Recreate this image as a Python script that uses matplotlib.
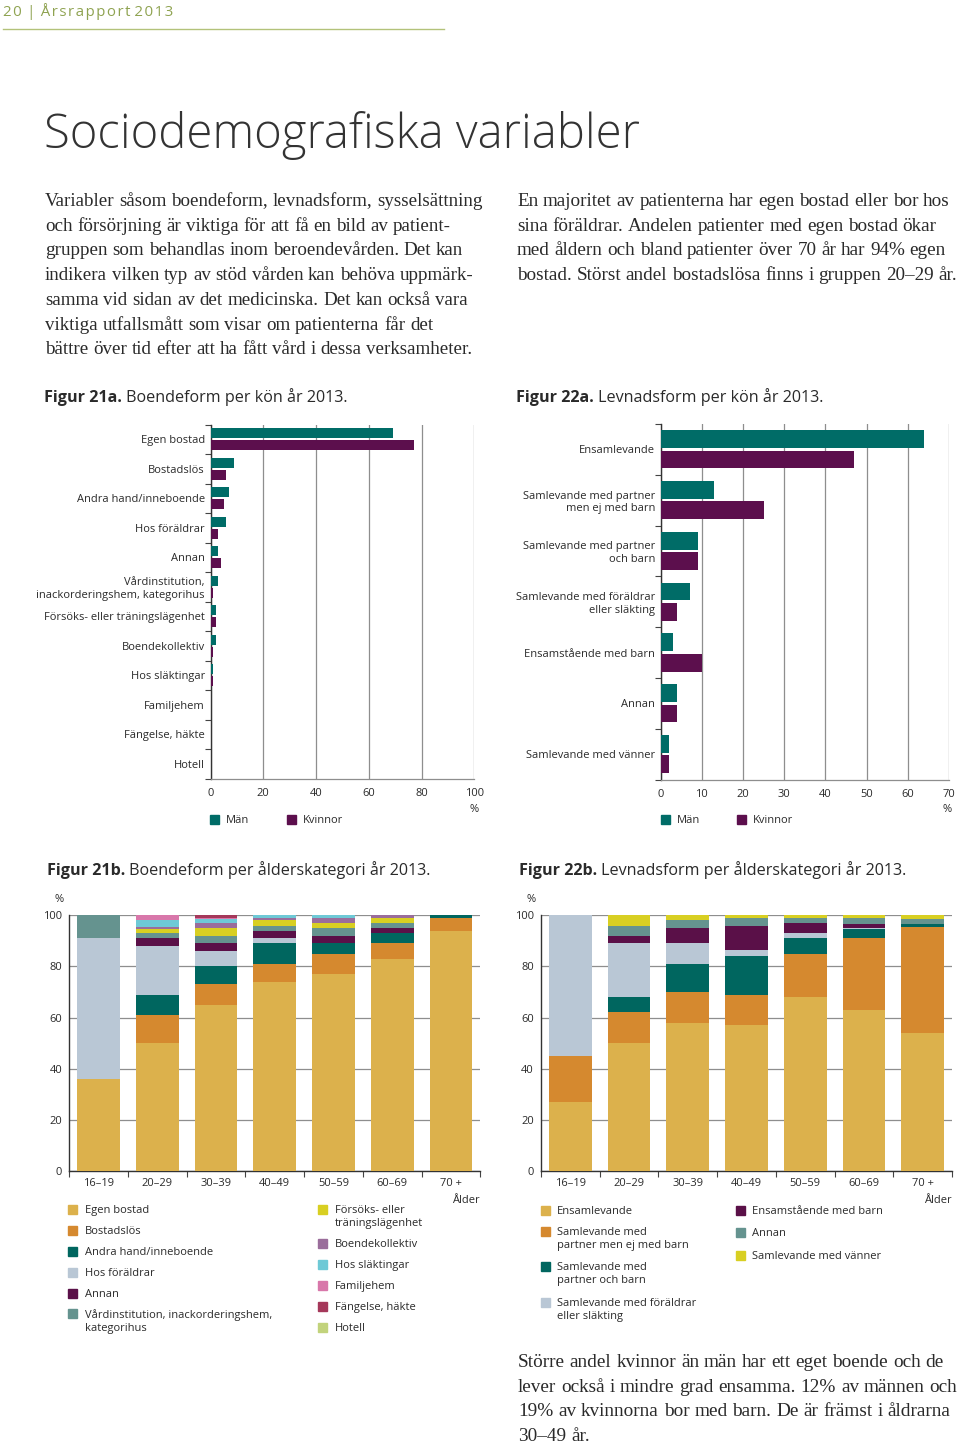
import matplotlib
matplotlib.use('Agg')
import matplotlib.pyplot as plt
from matplotlib.patches import Rectangle
from matplotlib.lines import Line2D
import numpy as np

# ---------------- data ----------------
boende_cats = ['Egen bostad', 'Bostadslös', 'Andra hand/inneboende', 'Hos föräldrar', 'Annan',
               'Vårdinstitution,\ninackorderingshem, kategorihus', 'Försöks- eller träningslägenhet',
               'Boendekollektiv', 'Hos släktingar', 'Familjehem', 'Fängelse, häkte', 'Hotell']
boende_man = [69, 9, 7, 6, 3, 3, 2, 2, 1, 0, 0, 0]
boende_kvinnor = [77, 6, 5, 3, 4, 1, 2, 1, 1, 0, 0, 0]

levnad_cats = ['Ensamlevande', 'Samlevande med partner\nmen ej med barn', 'Samlevande med partner\noch barn',
               'Samlevande med föräldrar\neller släkting', 'Ensamstående med barn', 'Annan',
               'Samlevande med vänner']
levnad_man = [64, 13, 9, 7, 3, 4, 2]
levnad_kvinnor = [47, 25, 9, 4, 10, 4, 2]

age_groups = ['16–19', '20–29', '30–39', '40–49', '50–59', '60–69', '70 +']

# Figure 21b: boendeform per ålder (%)
b_egen = [36, 50, 65, 74, 77, 83, 94]
b_bostadslos = [0, 11, 8, 7, 8, 6, 5]
b_andrahand = [0, 8, 7, 8, 4, 4, 1]
b_foraldrar = [55, 19, 6, 2, 0, 0, 0]
b_annan = [0, 3, 3, 3, 3, 2, 0]
b_vard = [9, 2, 3, 2, 3, 2, 0]
b_forsoks = [0, 1.5, 3, 2, 2, 2, 0]
b_kollektiv = [0, 1, 2, 1, 2, 1, 0]
b_slakt = [0, 2.5, 1.5, 1, 1, 0, 0]
b_familjehem = [0, 2, 0.5, 0, 0, 0, 0]
b_fangelse = [0, 0, 1, 0, 0, 0, 0]
b_hotell = [0, 0, 0, 0, 0, 0, 0]

b_legend = ['Egen bostad', 'Bostadslös', 'Andra hand/inneboende', 'Hos föräldrar', 'Annan',
            'Vårdinstitution, inackorderingshem,\nkategorihus', 'Försöks- eller\nträningslägenhet',
            'Boendekollektiv', 'Hos släktingar', 'Familjehem', 'Fängelse, häkte', 'Hotell']

# Figure 22b: levnadsform per ålder (%)
l_ensam = [27, 50, 58, 57, 68, 63, 54]
l_partner = [18, 12, 12, 12, 17, 28, 41.5]
l_partnerbarn = [0, 6, 11, 15, 6, 3.5, 1]
l_foraldrar = [55, 21, 8, 2.5, 2, 0.5, 0]
l_ensamst = [0, 3, 6, 9.5, 4, 1.5, 0]
l_annan = [0, 4, 3, 2.8, 2, 2.5, 2.2]
l_vanner = [0, 4, 2, 1.2, 1, 1, 1.3]

l_legend = ['Ensamlevande', 'Samlevande med\npartner men ej med barn', 'Samlevande med\npartner och barn',
            'Samlevande med föräldrar\neller släkting', 'Ensamstående med barn', 'Annan',
            'Samlevande med vänner']

# ---------------- style ----------------
W, H = 960, 1445
fig = plt.figure(figsize=(9.6, 14.45), dpi=100)
renderer = fig.canvas.get_renderer()

SANS = ['Open Sans', 'DejaVu Sans']
SERIF = ['Liberation Serif', 'DejaVu Serif']
TXT = '#2a2a2a'
GREEN = '#8fa351'
GRID = '#8e8e8e'
C_MAN = '#006c67'
C_KV = '#5c0f4d'

C_EGEN = '#dcb14c'
C_ORANGE = '#d5892f'
C_TEAL = '#00665f'
C_LB = '#b9c7d5'
C_PURP = '#5a1048'
C_GT = '#65938f'
C_YEL = '#d8cf22'
C_MAUVE = '#9a6d9b'
C_CYAN = '#6ec9d6'
C_PINK = '#d877aa'
C_CRIM = '#a5385a'
C_LGREEN = '#c2d37c'

b_colors = [C_EGEN, C_ORANGE, C_TEAL, C_LB, C_PURP, C_GT, C_YEL, C_MAUVE, C_CYAN, C_PINK, C_CRIM, C_LGREEN]
l_colors = [C_EGEN, C_ORANGE, C_TEAL, C_LB, C_PURP, C_GT, C_YEL]


def fx(x):
    return x / W


def fy(y):
    return 1 - y / H


def add_ax(l, t, r, b):
    return fig.add_axes([fx(l), fy(b), (r - l) / W, (b - t) / H])


def ftext(x, y, s, **kw):
    kw.setdefault('color', TXT)
    kw.setdefault('family', SANS)
    kw.setdefault('va', 'baseline')
    return fig.text(fx(x), fy(y), s, **kw)


def square(x, y, size, color):
    fig.patches.append(Rectangle((fx(x), fy(y + size / 2)), size / W, size / H,
                                 transform=fig.transFigure, color=color, zorder=5))


def width_of(s, size, family):
    t = fig.text(0, 0, s, fontsize=size, family=family)
    w = t.get_window_extent(renderer).width
    t.remove()
    return w


def paragraph(x0, y0, lines, size, step):
    # left-aligned (ragged right) text, laid out word by word at natural spacing
    sp = width_of('n n', size, SERIF) - 2 * width_of('n', size, SERIF)
    for i, line in enumerate(lines):
        y = y0 + i * step
        x = x0
        for w in line.split(' '):
            t = ftext(x, y, w, fontsize=size, family=SERIF)
            x += t.get_window_extent(renderer).width + sp


# ---------------- header / text ----------------
HS = '\u200a'
header = HS.join('20') + HS + ' | ' + HS + HS.join('Årsrapport') + ' ' + HS.join('2013')
ftext(3, 16, header, fontsize=10.8, color=GREEN, family=['Open Sans', 'DejaVu Sans'])
fig.add_artist(Line2D([fx(3), fx(444)], [fy(29), fy(29)], color='#b3c27a', lw=1, transform=fig.transFigure))

ftext(44, 148, 'Sociodemografiska variabler', fontsize=34, fontweight='light', color='#333333')

left_par = ['Variabler såsom boendeform, levnadsform, sysselsättning',
            'och försörjning är viktiga för att få en bild av patient-',
            'gruppen som behandlas inom beroendevården. Det kan',
            'indikera vilken typ av stöd vården kan behöva uppmärk-',
            'samma vid sidan av det medicinska. Det kan också vara',
            'viktiga utfallsmått som visar om patienterna får det',
            'bättre över tid efter att ha fått vård i dessa verksamheter.']
paragraph(45, 206, left_par, 13.7, 24.7)

right_par = ['En majoritet av patienterna har egen bostad eller bor hos',
             'sina föräldrar. Andelen patienter med egen bostad ökar',
             'med åldern och bland patienter över 70 år har 94% egen',
             'bostad. Störst andel bostadslösa finns i gruppen 20–29 år.']
paragraph(517, 206, right_par, 13.8, 24.7)

bottom_par = ['Större andel kvinnor än män har ett eget boende och de',
              'lever också i mindre grad ensamma. 12% av männen och',
              '19% av kvinnorna bor med barn. De är främst i åldrarna',
              '30–49 år.']
paragraph(518, 1367, bottom_par, 13.9, 24.7)


def caption(x, y, bold, rest):
    t = ftext(x, y, bold, fontsize=11.6, fontweight='bold')
    bb = t.get_window_extent(renderer)
    ftext(bb.x1 + 4, y, rest, fontsize=11.6)


caption(44, 402, 'Figur 21a.', 'Boendeform per kön år 2013.')
caption(516, 402, 'Figur 22a.', 'Levnadsform per kön år 2013.')
caption(47, 875, 'Figur 21b.', 'Boendeform per ålderskategori år 2013.')
caption(519, 875, 'Figur 22b.', 'Levnadsform per ålderskategori år 2013.')


# ---------------- horizontal bar charts ----------------
def hbar(ax, cats, man, kv, xmax, step, bh, off):
    y = np.arange(len(cats))
    ax.barh(y - off, man, height=bh, color=C_MAN, zorder=3)
    ax.barh(y + off, kv, height=bh, color=C_KV, zorder=3)
    ax.set_ylim(len(cats) - 0.5, -0.5)
    ax.set_xlim(0, xmax)
    ax.set_xticks(np.arange(0, xmax + 1, step))
    ax.set_yticks(y)
    ax.set_yticklabels(cats)
    ax.set_yticks(np.arange(-0.5, len(cats)), minor=True)
    ax.tick_params(axis='y', which='major', length=0, pad=4, labelsize=8, labelcolor=TXT)
    ax.tick_params(axis='y', which='minor', length=4, width=0.8, color='#444444')
    ax.tick_params(axis='x', length=0, pad=7, labelsize=8, labelcolor=TXT)
    for lab in ax.get_xticklabels() + ax.get_yticklabels():
        lab.set_family(SANS)
    ax.grid(axis='x', color=GRID, lw=0.9, zorder=0)
    ax.set_axisbelow(True)
    ax.spines['top'].set_visible(False)
    ax.spines['right'].set_visible(False)
    ax.spines['left'].set_color('#333333')
    ax.spines['left'].set_linewidth(1)
    ax.spines['bottom'].set_color(GRID)
    ax.spines['bottom'].set_linewidth(0.9)


ax1 = add_ax(210.5, 424.5, 474.3, 778.5)
hbar(ax1, boende_cats, boende_man, boende_kvinnor, 100, 20, 0.34, 0.21)
ftext(474, 812, '%', fontsize=8, ha='center')
square(210, 819, 9, C_MAN)
ftext(226, 823, 'Män', fontsize=8)
square(287, 819, 9, C_KV)
ftext(303, 823, 'Kvinnor', fontsize=8)

ax2 = add_ax(660.7, 424, 949, 779.5)
hbar(ax2, levnad_cats, levnad_man, levnad_kvinnor, 70, 10, 0.35, 0.2)
ftext(947, 812, '%', fontsize=8, ha='center')
square(661, 819, 9, C_MAN)
ftext(677, 823, 'Män', fontsize=8)
square(737, 819, 9, C_KV)
ftext(753, 823, 'Kvinnor', fontsize=8)


# ---------------- stacked bar charts ----------------
def stacked(ax, series, colors):
    x = np.arange(len(age_groups))
    bottom = np.zeros(len(age_groups))
    for vals, col in zip(series, colors):
        v = np.array(vals, dtype=float)
        ax.bar(x, v, bottom=bottom, width=0.726, color=col, zorder=3, linewidth=0)
        bottom += v
    ax.set_xlim(-0.5, len(age_groups) - 0.5)
    ax.set_ylim(0, 100)
    ax.set_yticks(np.arange(0, 101, 20))
    ax.set_xticks(x)
    ax.set_xticklabels(age_groups)
    ax.set_xticks(np.arange(-0.5, len(age_groups)), minor=True)
    ax.tick_params(axis='x', which='major', length=0, pad=5, labelsize=8, labelcolor=TXT)
    ax.tick_params(axis='x', which='minor', length=4, width=0.8, color='#444444')
    ax.tick_params(axis='y', length=0, pad=5, labelsize=8, labelcolor=TXT)
    for lab in ax.get_xticklabels() + ax.get_yticklabels():
        lab.set_family(SANS)
    ax.grid(axis='y', color=GRID, lw=0.9, zorder=0)
    ax.set_axisbelow(True)
    ax.spines['top'].set_visible(False)
    ax.spines['right'].set_visible(False)
    for s in ('left', 'bottom'):
        ax.spines[s].set_color('#333333')
        ax.spines[s].set_linewidth(1)


ax3 = add_ax(69.3, 915.3, 480.3, 1171)
stacked(ax3, [b_egen, b_bostadslos, b_andrahand, b_foraldrar, b_annan, b_vard, b_forsoks,
              b_kollektiv, b_slakt, b_familjehem, b_fangelse, b_hotell], b_colors)
ftext(59, 902, '%', fontsize=8, ha='center')
ftext(480, 1203, 'Ålder', fontsize=8, ha='right')

ax4 = add_ax(541, 915.3, 952, 1171)
stacked(ax4, [l_ensam, l_partner, l_partnerbarn, l_foraldrar, l_ensamst, l_annan, l_vanner], l_colors)
ftext(531, 902, '%', fontsize=8, ha='center')
ftext(952, 1203, 'Ålder', fontsize=8, ha='right')

# legends 21b
col1_y = [1209, 1230, 1251, 1272, 1293, 1313]
col2_y = [1209, 1243, 1264, 1285, 1306, 1327]
for i, (lab, col) in enumerate(zip(b_legend, b_colors)):
    if i < 6:
        xs, xt, yy = 68, 85, col1_y[i]
    else:
        xs, xt, yy = 318, 335, col2_y[i - 6]
    square(xs, yy, 9, col)
    fig.text(fx(xt), fy(yy - 4), lab, fontsize=8, va='top', linespacing=1.3, color=TXT, family=SANS)

# legends 22b
l_pos = [(541, 557, 1210), (541, 557, 1231), (541, 557, 1266), (541, 557, 1302),
         (736, 752, 1210), (736, 752, 1232), (736, 752, 1255)]
for (xs, xt, yy), lab, col in zip(l_pos, l_legend, l_colors):
    square(xs, yy, 9, col)
    fig.text(fx(xt), fy(yy - 4), lab, fontsize=8, va='top', linespacing=1.3, color=TXT, family=SANS)

fig.savefig('out.png', dpi=100)
